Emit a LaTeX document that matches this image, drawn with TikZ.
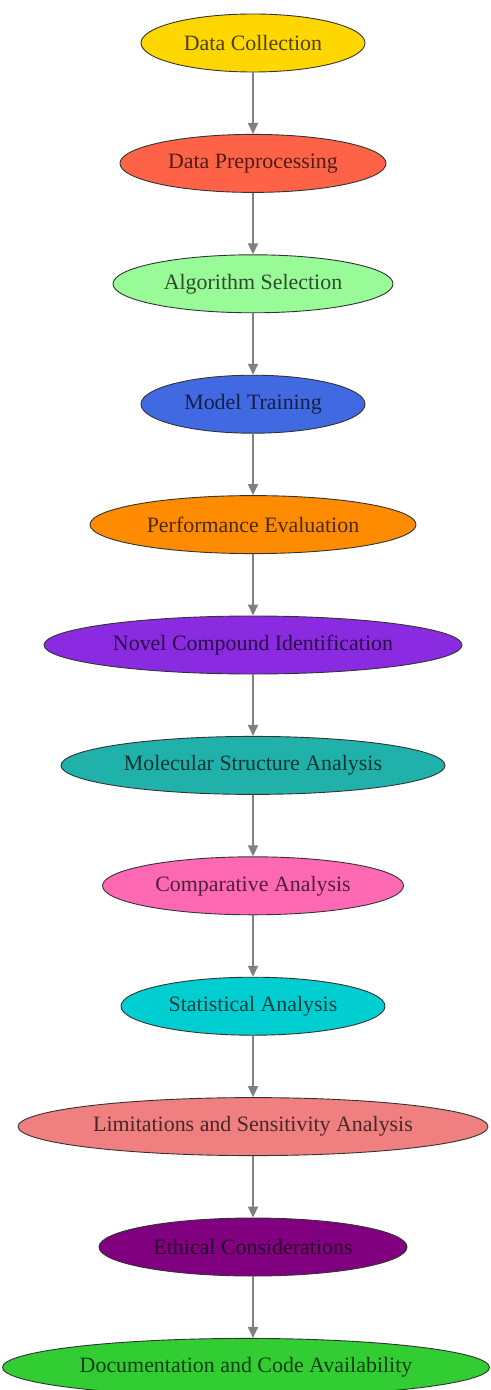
\documentclass[tikz,border=0pt]{standalone}
\usepackage{fontspec}
\setmainfont{Liberation Serif}
\usetikzlibrary{shapes.geometric,arrows.meta}
\tikzset{
  stage/.style={ellipse, draw=black!80, line width=0.9bp, inner sep=0pt,
    minimum height=58bp, font=\fontsize{22}{26}\selectfont,
    fill=#1, text=#1!30!black},
  flow/.style={draw=gray, line width=1.8bp, -{Triangle[length=11bp,width=10bp]}}
}
\definecolor{cgold}{HTML}{FFD700}
\definecolor{ctomato}{HTML}{FF6347}
\definecolor{cpalegreen}{HTML}{98FB98}
\definecolor{croyalblue}{HTML}{4169E1}
\definecolor{cdarkorange}{HTML}{FF8C00}
\definecolor{cblueviolet}{HTML}{8A2BE2}
\definecolor{clightseagreen}{HTML}{20B2AA}
\definecolor{chotpink}{HTML}{FF69B4}
\definecolor{cdarkturquoise}{HTML}{00CED1}
\definecolor{clightcoral}{HTML}{F08080}
\definecolor{cpurple}{HTML}{800080}
\definecolor{climegreen}{HTML}{32CD32}
\begin{document}
\begin{tikzpicture}[x=1bp,y=-1bp]
\useasboundingbox (0,0) rectangle (491,1390);
\node[stage=cgold, minimum width=224bp] (n1) at (253,43) {Data Collection};
\node[stage=ctomato, minimum width=266bp] (n2) at (253,163.4) {Data Preprocessing};
\node[stage=cpalegreen, minimum width=280bp] (n3) at (253,283.8) {Algorithm Selection};
\node[stage=croyalblue, minimum width=224bp] (n4) at (253,404.2) {Model Training};
\node[stage=cdarkorange, minimum width=326bp] (n5) at (253,524.6) {Performance Evaluation};
\node[stage=cblueviolet, minimum width=418bp] (n6) at (253,645) {Novel Compound Identification};
\node[stage=clightseagreen, minimum width=384bp] (n7) at (253,765.4) {Molecular Structure Analysis};
\node[stage=chotpink, minimum width=301bp] (n8) at (253,885.8) {Comparative Analysis};
\node[stage=cdarkturquoise, minimum width=264bp] (n9) at (253,1006.2) {Statistical Analysis};
\node[stage=clightcoral, minimum width=470bp] (n10) at (253,1126.6) {Limitations and Sensitivity Analysis};
\node[stage=cpurple, minimum width=308bp] (n11) at (253,1247) {Ethical Considerations};
\node[stage=climegreen, minimum width=487bp] (n12) at (246,1367.4) {Documentation and Code Availability};
\foreach \a/\b in {n1/n2,n2/n3,n3/n4,n4/n5,n5/n6,n6/n7,n7/n8,n8/n9,n9/n10,n10/n11,n11/n12}
  \draw[flow] (\a.south) -- (\a.south |- \b.north);
\end{tikzpicture}
\end{document}
